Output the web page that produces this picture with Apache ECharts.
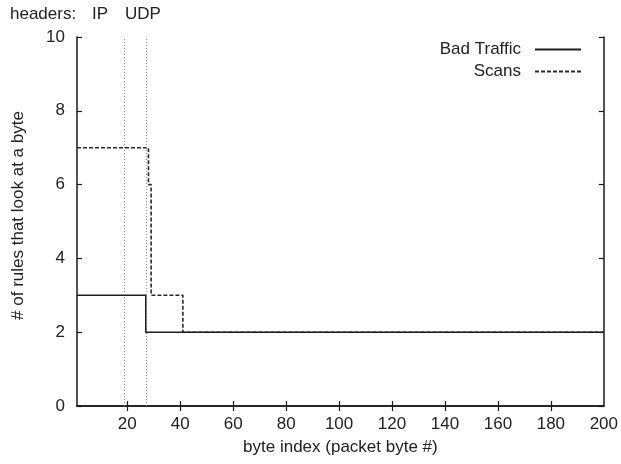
<!DOCTYPE html>
<html>
<head>
<meta charset="utf-8">
<script src="https://cdn.jsdelivr.net/npm/echarts@6/dist/echarts.min.js"></script>
<style>
html,body{margin:0;padding:0;background:#fff;}
#chart{width:621px;height:464px;}
</style>
</head>
<body>
<div id="chart"></div>
<script>
// Data (byte index, rule count) — step points
var badTrafficX = [1, 27, 200];
var badTrafficY = [3, 2, 2];
var scansX = [1, 28, 29, 41, 200];
var scansY = [7, 6, 3, 2, 2];
var headerBoundaries = [19, 27];
var headerLabels = ['headers:', 'IP', 'UDP'];
var xTicks = [20, 40, 60, 80, 100, 120, 140, 160, 180, 200];
var yTicks = [0, 2, 4, 6, 8, 10];

function pairs(xs, ys) { return xs.map(function (x, i) { return [x, ys[i]]; }); }

var FONT = '"Liberation Sans", Arial, sans-serif';
var AX = '#1a1a1a';
var chart = echarts.init(document.getElementById('chart'), null, {renderer: 'canvas'});

chart.setOption({
  animation: false,
  backgroundColor: '#ffffff',
  textStyle: {fontFamily: FONT},
  grid: {left: 77, right: 16, top: 37, bottom: 58},
  legend: {
    orient: 'vertical', right: 34, top: 36, align: 'right',
    itemWidth: 46, itemHeight: 14, itemGap: 5,
    itemStyle: {opacity: 0},
    textStyle: {fontFamily: FONT, fontSize: 17, color: '#222', padding: [0, 9, 0, 0]},
    data: ['Bad Traffic', 'Scans']
  },
  graphic: [
    {type: 'text', left: 10, top: 6, style: {text: headerLabels[0], font: '17px ' + FONT, fill: '#222'}},
    {type: 'text', left: 92, top: 6, style: {text: headerLabels[1], font: '17px ' + FONT, fill: '#222'}},
    {type: 'text', left: 125, top: 6, style: {text: headerLabels[2], font: '17px ' + FONT, fill: '#222'}}
  ],
  xAxis: [{
    type: 'value', min: 1, max: 200,
    name: 'byte index (packet byte #)', nameLocation: 'middle', nameGap: 33,
    nameTextStyle: {fontFamily: FONT, fontSize: 17, color: '#222'},
    axisLine: {lineStyle: {color: AX, width: 1.5}},
    axisTick: {inside: true, length: 5, lineStyle: {color: AX, width: 1.2}, customValues: xTicks.slice(0, -1)},
    axisLabel: {fontFamily: FONT, fontSize: 17, color: '#222', margin: 10, customValues: xTicks},
    splitLine: {show: false}
  }, {
    type: 'value', min: 1, max: 200, position: 'top',
    axisLine: {show: true, lineStyle: {color: AX, width: 1.5}},
    axisTick: {inside: true, length: 5, lineStyle: {color: AX, width: 1.2}, customValues: xTicks.slice(0, -1)},
    axisLabel: {show: false},
    splitLine: {show: false}
  }],
  yAxis: [{
    type: 'value', min: 0, max: 10, interval: 2,
    name: '# of rules that look at a byte', nameLocation: 'middle', nameGap: 50,
    nameTextStyle: {fontFamily: FONT, fontSize: 17, color: '#222', padding: [0, 0, 0, 12]},
    axisLine: {show: true, lineStyle: {color: AX, width: 1.5}},
    axisTick: {show: true, inside: true, length: 5, lineStyle: {color: AX, width: 1.2}},
    axisLabel: {fontFamily: FONT, fontSize: 17, color: '#222', margin: 12,
      formatter: function (v) { return yTicks.indexOf(v) >= 0 ? String(v) : ''; }},
    splitLine: {show: false}
  }, {
    type: 'value', min: 0, max: 10, interval: 2, position: 'right',
    axisLine: {show: true, lineStyle: {color: AX, width: 1.5}},
    axisTick: {show: true, inside: true, length: 5, lineStyle: {color: AX, width: 1.2}},
    axisLabel: {show: false},
    splitLine: {show: false}
  }],
  series: [{
    name: 'Bad Traffic', type: 'line', step: 'end', symbol: 'none',
    data: pairs(badTrafficX, badTrafficY),
    lineStyle: {color: '#1e1e1e', width: 1.6},
    itemStyle: {color: '#1e1e1e'},
    markLine: {
      silent: true, symbol: 'none', label: {show: false},
      lineStyle: {color: '#888', width: 1, type: [1, 2]},
      data: headerBoundaries.map(function (b) { return {xAxis: b}; })
    },
    z: 3
  }, {
    name: 'Scans', type: 'line', step: 'end', symbol: 'none',
    data: pairs(scansX, scansY),
    lineStyle: {color: '#2a2a2a', width: 1.6, type: [4, 2]},
    itemStyle: {color: '#2a2a2a'},
    z: 2
  }]
});
</script>
</body>
</html>
